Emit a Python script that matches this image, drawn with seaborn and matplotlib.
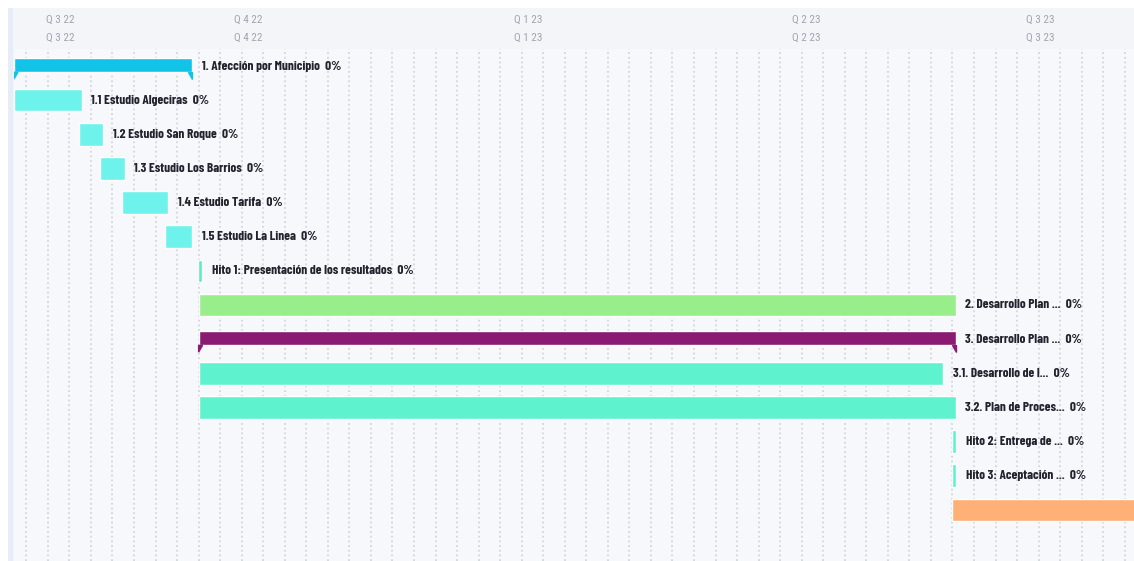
import numpy as np
import pandas as pd
import matplotlib
matplotlib.use("Agg")
import matplotlib.pyplot as plt
import matplotlib.dates as mdates
from matplotlib import font_manager as fm
import seaborn as sns
from matplotlib.patches import Polygon, Rectangle

task_names = [
    "1. Afección por Municipio", "1.1 Estudio Algeciras", "1.2 Estudio San Roque",
    "1.3 Estudio Los Barrios", "1.4 Estudio Tarifa", "1.5 Estudio La Linea",
    "Hito 1: Presentación de los resultados", "2. Desarrollo Plan ...",
    "3. Desarrollo Plan ...", "3.1. Desarrollo de l...", "3.2. Plan de Proces...",
    "Hito 2: Entrega de ...", "Hito 3: Aceptación ...", "",
]
start_dates = [
    "2022-09-01", "2022-09-01", "2022-09-22", "2022-09-29", "2022-10-06",
    "2022-10-20", "2022-10-30 18:00", "2022-10-31", "2022-10-31", "2022-10-31",
    "2022-10-31", "2023-07-03", "2023-07-03", "2023-07-03",
]
end_dates = [
    "2022-10-29", "2022-09-23", "2022-09-30", "2022-10-07", "2022-10-21",
    "2022-10-29", "2022-11-01 02:00", "2023-07-04", "2023-07-04", "2023-06-30",
    "2023-07-04", "2023-07-04 06:00", "2023-07-04 06:00", "2023-09-30",
]
task_kinds = [
    "summary", "task", "task", "task", "task", "task", "milestone", "task",
    "summary", "task", "task", "milestone", "milestone", "task",
]
progress = [0, 0, 0, 0, 0, 0, 0, 0, 0, 0, 0, 0, 0, 0]
bar_colors = [
    "#12c3e8", "#6ef3ec", "#6ef3ec", "#6ef3ec", "#6ef3ec", "#6ef3ec", "#5eecc4",
    "#98ee8a", "#8a1a72", "#5ff2cf", "#5ff2cf", "#5ff2cf", "#5ff2cf", "#ffb077",
]
quarter_labels = ["Q 3 22", "Q 4 22", "Q 1 23", "Q 2 23", "Q 3 23"]
quarter_starts = ["2022-07-01", "2022-10-01", "2023-01-01", "2023-04-01", "2023-07-01"]
quarter_ends = ["2022-10-01", "2023-01-01", "2023-04-01", "2023-07-01", "2023-10-01"]
view_start, view_end = "2022-09-01", "2023-08-31"

sns.set_style("white")

# pick narrow faces if they are around, otherwise plain DejaVu
installed = {f.name for f in fm.fontManager.ttflist}


def first_font(cands):
    for cand in cands:
        if cand in installed:
            return cand
    return "DejaVu Sans"


family = first_font(["Barlow Condensed", "Fira Sans Extra Condensed", "Roboto Condensed",
                     "Open Sans Condensed", "IBM Plex Sans Condensed",
                     "Liberation Sans Narrow"])
head_family = first_font(["Roboto Condensed", "Barlow Condensed", "Liberation Sans Narrow"])
plt.rcParams["font.family"] = [family, "DejaVu Sans"]

W, H = 1134, 561
fig = plt.figure(figsize=(W / 100, H / 100), dpi=100)
fig.patch.set_facecolor("white")


def fit_size(text, target_px, weight, fam, lo, hi):
    # font size that makes `text` about target_px wide
    t = fig.text(0, 0, text, fontsize=10, fontweight=weight, family=[fam, "DejaVu Sans"])
    w = t.get_window_extent(renderer=fig.canvas.get_renderer()).width
    t.remove()
    return float(np.clip(10 * target_px / w, lo, hi))


label_size = fit_size("1. Afección por Municipio  0%", 140, "bold", family, 7.5, 13)
head_size = fit_size("Q 3 22", 28, "normal", head_family, 6.5, 9.5)

# header band and left strip
fig.add_artist(Rectangle((8 / W, 0), 1 - 8 / W, 1 - 8 / H, transform=fig.transFigure,
                         facecolor="#f4f5f9", edgecolor="none", zorder=0))
fig.add_artist(Rectangle((8 / W, 0), 5 / W, 1 - 8 / H, transform=fig.transFigure,
                         facecolor="#e7edf6", edgecolor="none", zorder=1))

ax = fig.add_axes([14 / W, 0, 1 - 14 / W, 1 - 49 / H])
ax.set_facecolor("#f7f8fc")

starts = mdates.date2num(pd.to_datetime(start_dates, format="mixed"))
ends = mdates.date2num(pd.to_datetime(end_dates, format="mixed"))
x0 = mdates.date2num(pd.Timestamp(view_start))
x1 = mdates.date2num(pd.Timestamp(view_end))
n_rows = len(task_names) + 1

# weekly dotted grid (mondays)
for wk in pd.date_range(view_start, view_end, freq="W-MON"):
    ax.axvline(mdates.date2num(wk), color="#d3d6de", lw=1.3,
               ls=(0, (1, 1.6)), zorder=0)

for i, (name, s, e, kind, p, c) in enumerate(
        zip(task_names, starts, ends, task_kinds, progress, bar_colors)):
    if kind == "summary":
        h, tip, dx = 0.42, 0.2, 1.3
        yc = i - 0.03
        ax.barh(yc, e - s, left=s, height=h, color=c, zorder=2)
        yb = yc + h / 2
        ax.add_patch(Polygon([(s, yb), (s + dx, yb), (s, yb + tip)],
                             closed=True, color=c, zorder=2))
        ax.add_patch(Polygon([(e - dx, yb), (e, yb), (e, yb + tip)],
                             closed=True, color=c, zorder=2))
    else:
        ax.barh(i, e - s, left=s, height=0.66, color=c, zorder=2)
    if name:
        ax.annotate(f"{name}  {p}%", (e, i), xytext=(7, 0), textcoords="offset points",
                    ha="left", va="center", fontsize=label_size, fontweight="bold",
                    color="#23232e", zorder=3, annotation_clip=False)

ax.set_xlim(x0, x1)
ax.set_ylim(n_rows - 0.5, -0.5)
ax.set_xticks([])
ax.set_yticks([])
sns.despine(ax=ax, left=True, bottom=True, top=True, right=True)

# quarter labels centred in their visible span, twice
to_fig = lambda v: (14 + (v - x0) / (x1 - x0) * (W - 14)) / W
for lab, qs, qe in zip(quarter_labels, quarter_starts, quarter_ends):
    a = max(mdates.date2num(pd.Timestamp(qs)), x0)
    b = min(mdates.date2num(pd.Timestamp(qe)), x1)
    xc = to_fig((a + b) / 2)
    for yy in (20, 38):
        fig.text(xc, 1 - yy / H, lab, ha="center", va="center", fontsize=head_size,
                 color="#a3a4ad", family=[head_family, "DejaVu Sans"])

fig.savefig("out.png", dpi=100)
